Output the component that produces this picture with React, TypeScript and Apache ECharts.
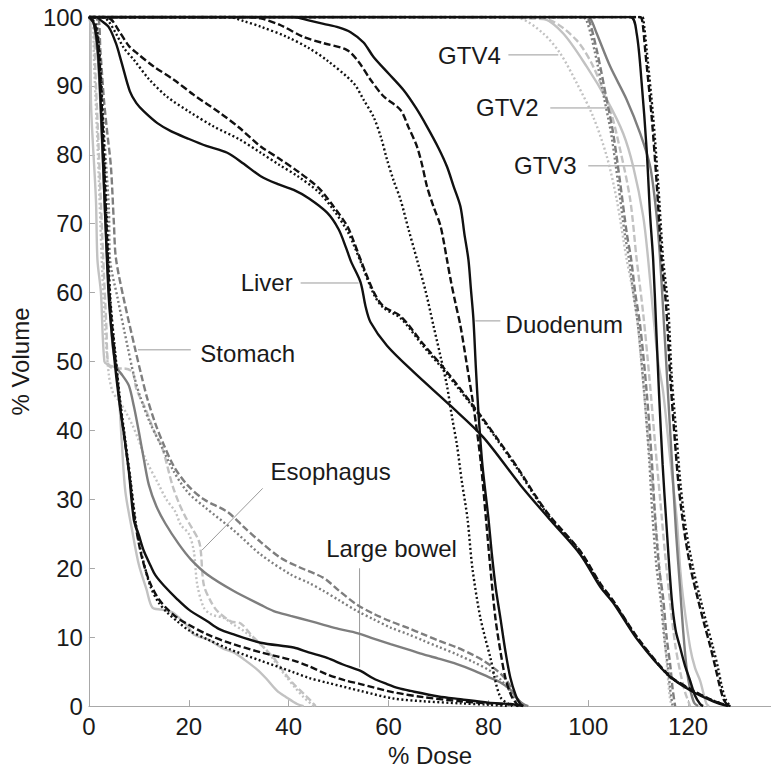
import React, { useEffect, useRef } from "react";
import * as echarts from "echarts";

type Pt = [number, number];

const xTickValues = [0, 20, 40, 60, 80, 100, 120];
const yTickValues = [0, 10, 20, 30, 40, 50, 60, 70, 80, 90, 100];

// Liver (black)
const liverSolid: Pt[] = [[0,100],[1.5,100],[2.4,99.5],[4,98.5],[5.4,96.2],[6.5,93.5],[8.2,89.2],[9.5,87.5],[11,86.3],[13.7,84.6],[16.5,83.4],[19.7,82.4],[23.5,81.3],[27.7,80.3],[31,78.7],[34.4,76.9],[38,75.7],[41,74.9],[44,73.7],[47.7,71.6],[50,69.2],[51.5,66.5],[52.5,64.5],[54.4,61.5],[55.4,58],[56.4,55.7],[59.7,52.3],[65,48.5],[72.4,43.6],[79,39],[86.4,32.1],[92.4,27],[98.4,22],[102.4,17.3],[105,15],[110,9.5],[116,4.5],[120.4,2.3],[125,0.7],[128,0]];
const liverDashed: Pt[] = [[0,100],[3,100],[4.5,99.6],[6,98],[8,95.8],[9.7,94.7],[13,92.8],[17,90.9],[21,88.7],[26.4,86],[30,84],[34.4,81.2],[38,79.5],[42,77.5],[46,75.2],[49,72.5],[51.7,69.7],[53,67.5],[54.4,64.8],[57.1,60],[59,58],[62.4,56.6],[67,52.5],[71.7,48.5],[78.4,42.2],[82,38.6],[86.4,34],[89,31],[92.4,27.5],[98.4,22.5],[102.4,17.8],[105,15.3],[110,9.8],[116,4.6],[120.4,2.5],[125,0.8],[128.5,0]];
const liverDotted: Pt[] = [[0,100],[2.8,100],[4,99.3],[5.5,97.5],[7,95.5],[9.1,93.7],[12,91],[15.7,88.4],[20,86.3],[25,84.1],[30,82.3],[34.4,80.3],[38,78.6],[42,76.8],[46,74.6],[49,72],[51.7,69],[53,67],[54.4,64.5],[57.1,59.7],[59,57.8],[62.4,56.3],[67,52.2],[71.7,48.2],[78.4,42],[82,38.4],[86.4,33.8],[89,30.8],[92.4,27.3],[98.4,22.4],[102.4,17.6],[105,15.2],[110,9.7],[116,4.5],[120.4,2.4],[125,0.8],[128.3,0]];

// Duodenum (black)
const duodenumSolid: Pt[] = [[0,100],[41,100],[44,99.5],[47,99],[50,98.5],[52.4,97.8],[55,96.3],[57,94.2],[60,91.8],[63,89.4],[65.5,86.8],[67.7,84.1],[70,81],[71.7,78.3],[73,75.5],[74.4,72.5],[75.2,68.5],[76,64.8],[76.5,60.5],[77,56.2],[77.5,49],[78,42.7],[78.8,35],[80,27.3],[80.7,22],[81.5,17],[82.4,12.8],[83.4,8],[84.4,4.1],[85.5,1.5],[86.4,0.3],[87,0]];
const duodenumDashed: Pt[] = [[0,100],[32,100],[34.4,99.8],[38.4,98.8],[43,97.1],[47,96.2],[51.7,95.2],[54,93.5],[56.4,90.9],[59,88.5],[62.4,86.5],[64,84],[65.7,81.2],[66.8,78.3],[67.7,75.4],[69,72.5],[70.4,69.7],[71.7,64.8],[72.4,62],[73.4,58.5],[74.4,55.2],[75.7,49.5],[77,43.6],[78.4,35.9],[79.5,27.3],[80.4,20],[81.4,12.8],[82.4,8],[83.4,4.1],[84.6,1.5],[85.7,0.3],[86.5,0]];
const duodenumDotted: Pt[] = [[0,100],[28,100],[31,99.4],[34.4,98.6],[39.7,97.1],[44,95.5],[47.7,93.7],[53,90.4],[55,88],[57,85.5],[58.5,82.5],[59.7,79.3],[61,76.3],[62.4,73.5],[64,69.2],[65.7,64.8],[67.5,60],[69,55.2],[70.4,50.8],[71.7,46.5],[72.7,42],[73.7,37.9],[74.7,32.5],[75.8,27.3],[76.8,20],[78.4,12.8],[80.4,7],[82.4,1.3],[84.8,0]];

// Large bowel (black)
const bowelSolid: Pt[] = [[0,100],[1,99],[1.8,95],[2.5,85],[3.2,72],[4,59],[5,51],[6,44.6],[7,39.5],[8,34],[9,27],[10,24.8],[11,22.5],[12.4,20.3],[13.3,19],[15,17.5],[17.7,15.5],[20,14],[23.7,12.3],[26,11.2],[29,10.4],[34.4,9.2],[41,8.5],[44,7.8],[47.7,7],[51,6],[54.4,5.1],[57,4],[59.7,3.2],[62,2.6],[64.4,2.2],[70,1.4],[74.4,1],[80,0.5],[84.4,0.3],[87,0]];
const bowelDashed: Pt[] = [[0,100],[1.2,99],[2,95],[2.7,85],[3.4,72],[4.2,59],[5.2,51],[6.2,44],[7.2,38.5],[8.2,33],[9.3,26.5],[10.3,22.5],[11.3,19.8],[12.4,17.6],[14,15.5],[15.8,14],[17.7,12.8],[20,11.8],[23.7,10.4],[28,9.2],[34.4,7.8],[41,6.6],[44,5.8],[47.7,4.6],[51,3.8],[54.4,3.2],[61,2],[67,1.3],[74.4,0.7],[80,0.4],[85,0.2],[86,0]];
const bowelDotted: Pt[] = [[0,100],[1.3,99],[2.1,95],[2.8,85],[3.5,72],[4.3,59],[5.3,51],[6.3,44],[7.3,38.5],[8.3,33],[9.4,26.5],[10.4,22.5],[11.4,19.6],[12.4,17.2],[14,15],[15.8,13.5],[17.7,12.3],[20,11],[23.7,9.7],[28,8.3],[34.4,6.6],[41,4.9],[44,4.1],[47.7,3.4],[54.4,2.2],[61,1.1],[67,0.7],[74.4,0.4],[80,0.2],[84,0]];

// Stomach (dark grey)
const stomachSolid: Pt[] = [[0,100],[1,99],[1.8,94],[2.5,84],[3.2,72],[4,60],[4.8,52],[5.7,49],[6.7,48],[8,46.5],[9,43.5],[10,39.8],[11,35.8],[12,32.1],[13.5,29],[15.3,26.5],[18,23.5],[20.4,21.3],[23.7,19.1],[29,16.7],[34.4,14.7],[37,13.8],[40.4,13.1],[44,12.4],[47,11.8],[50,11.2],[53.7,10.6],[57,9.8],[60.4,9],[64,8.2],[67,7.5],[70,6.9],[73.7,6.1],[77,5.2],[80.4,4.1],[82.5,3.4],[84.4,2.4],[85.8,1],[87,0.3],[88,0]];
const stomachDashed: Pt[] = [[0,100],[1.7,100],[2.3,95],[3,88],[3.7,83],[4.4,78.3],[5,70],[5.4,65],[7,59],[9.1,52.3],[10.5,48],[11.7,44.6],[13.3,41],[15,37.9],[17,34.8],[19.7,32.1],[23,30],[27.7,28.2],[31,26],[34.4,23.8],[38.4,21.5],[42,20.2],[47,18.6],[50,16.8],[53.7,14.7],[57,13.4],[60.4,12.3],[64,11.3],[67,10.4],[70,9.5],[73.7,8.5],[77,7.4],[79,6.6],[81.5,5.3],[83.7,3.7],[85,2],[86.5,0.5],[87.5,0]];
const stomachDotted: Pt[] = [[0,100],[1.4,100],[2,95],[2.7,87],[3.4,79],[4,72],[4.2,65],[5.8,59],[7.7,52.3],[9,48],[10.4,44.6],[12.3,41],[14.4,37.9],[16.8,34.3],[19.7,31.1],[23.5,28.7],[29,25.5],[34.4,22],[40.4,19.1],[44,17.9],[47,16.7],[50,15.4],[53.7,13.8],[57,12.6],[60.4,11.4],[64,10.4],[67,9.5],[70,8.6],[73.7,7.5],[77,6.4],[80.4,5.1],[82.5,3.8],[84,2.5],[85.5,0.8],[86.5,0]];

// Esophagus (light grey)
const esophSolid: Pt[] = [[0,100],[0.3,99],[0.4,88],[1.4,73.5],[1.7,64.8],[2.4,60],[3.1,50],[4,49.5],[5.4,49],[6,45],[6.6,38],[7.3,31.1],[8.7,25.3],[10,20.5],[11.5,17],[12.7,14.3],[14.5,14],[16.7,13.6],[18.5,12.5],[20,11.4],[21,10.4],[24,9.6],[27,8.3],[29,7.8],[31,6.8],[33.7,5.3],[35.5,4],[37.7,2.2],[39.5,1.3],[41.7,0.3],[43,0]];
const esophDashed: Pt[] = [[0,100],[0.8,100],[1.3,92],[2,80],[2.8,66],[3.5,55],[3.9,49.5],[5,49],[7,49],[8.7,48.5],[9.5,46],[11.3,43.2],[13,40],[14.7,37.4],[16.7,32.1],[18,29.5],[19.3,27.5],[20.5,26],[22,24],[22.4,22.5],[23,17.6],[24.4,15.2],[25.7,13.8],[28.4,12.3],[30.4,12],[32.4,10.4],[35,8.5],[37,7],[39,5],[41,3.2],[43,1.8],[44.4,0.8],[45.4,0]];
const esophDotted: Pt[] = [[0,100],[0.6,100],[1.1,92],[1.8,80],[2.5,66],[3.2,55],[4,48],[4.8,45.5],[5.7,44.6],[6.3,44],[7.5,42.5],[8.7,40.8],[10,38.5],[11.3,35.9],[14,32.1],[15.5,30],[17.3,28.2],[18.4,26.3],[20,25],[21,22.5],[21.7,17.6],[23,14.3],[24.5,13.3],[27,12.8],[29,11.8],[31,10.9],[33.5,9.5],[35.7,8],[37.5,6.2],[39.7,4.1],[41.5,2.5],[43,1.3],[45,0]];

// GTV3 (black)
const gtv3Solid: Pt[] = [[0,100],[108.4,100],[109.7,97.6],[110.7,90.4],[111.7,80.7],[112.4,71.1],[113,64.8],[113.6,55],[114.2,45],[114.9,35],[115.6,27],[116.7,15.7],[117.5,11],[118.4,8.5],[119.4,5.8],[120.4,3.7],[121.4,1.5],[122.4,0.3],[123,0]];
const gtv3Dashed: Pt[] = [[0,100],[110.3,100],[110.8,99.5],[111.4,95.2],[112.7,85.5],[113.7,75.9],[114.7,64.8],[115.6,58],[116.4,48],[117.3,39],[118.1,32],[119.1,26],[120.5,20],[121.9,15.7],[123.2,12],[124.5,8.5],[125.5,5.5],[126.3,3],[127.1,1],[128,0]];
const gtv3Dotted: Pt[] = [[0,100],[110.7,100],[111,99.8],[111.7,95.2],[113,85.5],[114,75.9],[115,64.8],[116,58],[116.7,48],[117.7,39],[118.5,32],[119.5,26],[121,20],[122.4,15.7],[123.7,12],[125,8.5],[126,5.5],[126.7,3],[127.5,1],[128.4,0]];

// GTV2 (dark grey)
const gtv2Solid: Pt[] = [[0,100],[99.5,100],[100.4,99.8],[101.7,97.6],[104.4,92.8],[107.7,88],[110.4,83.1],[112.4,78.3],[113.7,71.1],[114.4,64.8],[115.2,55],[116,45],[116.8,35],[117.6,25],[118.4,17],[119,11],[119.7,5.5],[120.4,2.5],[121.2,0.5],[122,0]];
const gtv2Dashed: Pt[] = [[0,100],[99,100],[100,99.8],[101.7,95.2],[103.7,88],[105,83.1],[106.4,75.9],[107.7,68.7],[108.6,64.8],[109.4,60],[110.4,55.2],[111.7,45.6],[112.7,35.9],[113.4,27.3],[114.2,20],[115,15.7],[115.7,10],[116.4,6.1],[116.9,2.5],[117.4,0]];
const gtv2Dotted: Pt[] = [[0,100],[98.5,100],[99.6,99.6],[101.3,95],[103.3,87.8],[104.6,83],[106,75.8],[107.3,68.6],[108.2,64.7],[109,60],[110,55],[111.2,45.5],[112.2,35.8],[112.9,27.2],[113.7,20],[114.5,15.5],[115.2,10],[115.9,6],[116.4,2.5],[116.9,0]];

// GTV4 (light grey)
const gtv4Solid: Pt[] = [[0,100],[88,100],[91,99.8],[95,97.6],[99.7,92.8],[103.7,88],[107,83.1],[109,78.3],[111,71.1],[112,64.8],[113,57],[114,50],[115,45.6],[116.4,35.9],[117.7,27.3],[118.4,20],[119,15.7],[120.4,8.5],[121.4,5.5],[122.4,3.7],[123.2,1.5],[123.7,0.3],[124.2,0]];
const gtv4Dashed: Pt[] = [[0,100],[84,100],[88,99.8],[92.4,99.5],[97.7,96.6],[101,92.8],[104.4,86.5],[106.4,80.7],[108.4,73.5],[109.7,64.8],[111,57],[112.2,48],[113.4,38],[114.4,30],[115.4,22],[116.4,15],[117.4,9],[118.4,5],[119.4,2],[120.4,0]];
const gtv4Dotted: Pt[] = [[0,100],[83,100],[86.4,99.8],[91,97.6],[94.4,94.7],[97.7,90.4],[101,85.5],[103.7,79.8],[105.7,73.5],[107.7,64.8],[109.5,58],[110.6,50],[111.6,42],[112.6,34],[113.6,26],[114.5,18],[115.2,11],[115.8,5.5],[116.3,1.5],[116.7,0]];

// Annotation labels and leader lines, in data coordinates (dose, volume)
const annotationTexts = ["GTV4", "GTV2", "GTV3", "Liver", "Duodenum", "Stomach", "Esophagus", "Large bowel"];
const annotationLabelPos: Pt[] = [[76.2, 94.4], [83.8, 86.8], [91.4, 78.4], [35.6, 61.5], [95.2, 55.4], [31.8, 51.2], [48.4, 34.1], [60.6, 22.9]];
const annotationLeaderFrom: Pt[] = [[84, 94.5], [92.4, 86.8], [100, 78.4], [42.4, 61.4], [77.4, 55.9], [9.8, 51.7], [34.8, 31.6], [54.2, 20]];
const annotationLeaderTo: Pt[] = [[94, 94.5], [104, 86.8], [111.4, 78.4], [54, 61.4], [82.4, 55.9], [20.4, 51.7], [22.6, 22.6], [54.2, 5.6]];

const BLACK = "#111111";
const DARK = "#7e7e7e";
const LIGHT = "#c2c2c2";
const DASH = [7, 3];
const DOT = [2, 2.5];
const FONT = '"Liberation Sans", Arial, Helvetica, sans-serif';

const curveDefs: { data: Pt[]; color: string; type: any }[] = [
  { data: esophSolid, color: LIGHT, type: "solid" },
  { data: esophDashed, color: LIGHT, type: DASH },
  { data: esophDotted, color: LIGHT, type: DOT },
  { data: gtv4Solid, color: LIGHT, type: "solid" },
  { data: gtv4Dashed, color: LIGHT, type: DASH },
  { data: gtv4Dotted, color: LIGHT, type: DOT },
  { data: stomachSolid, color: DARK, type: "solid" },
  { data: stomachDashed, color: DARK, type: DASH },
  { data: stomachDotted, color: DARK, type: DOT },
  { data: gtv2Solid, color: DARK, type: "solid" },
  { data: gtv2Dashed, color: DARK, type: DASH },
  { data: gtv2Dotted, color: DARK, type: DOT },
  { data: bowelSolid, color: BLACK, type: "solid" },
  { data: bowelDashed, color: BLACK, type: DASH },
  { data: bowelDotted, color: BLACK, type: DOT },
  { data: liverSolid, color: BLACK, type: "solid" },
  { data: liverDashed, color: BLACK, type: DASH },
  { data: liverDotted, color: BLACK, type: DOT },
  { data: duodenumSolid, color: BLACK, type: "solid" },
  { data: duodenumDashed, color: BLACK, type: DASH },
  { data: duodenumDotted, color: BLACK, type: DOT },
  { data: gtv3Solid, color: BLACK, type: "solid" },
  { data: gtv3Dashed, color: BLACK, type: DASH },
  { data: gtv3Dotted, color: BLACK, type: DOT },
];

export default function App() {
  const ref = useRef<HTMLDivElement>(null);
  useEffect(() => {
    if (!ref.current) return;
    const chart = echarts.init(ref.current, undefined, { renderer: "svg" });
    chart.setOption({
      animation: false,
      backgroundColor: "#ffffff",
      grid: { left: 88, top: 17, width: 683, height: 692, containLabel: false },
      xAxis: {
        type: "value",
        min: 0,
        max: 136.6,
        interval: 20,
        name: "% Dose",
        nameLocation: "middle",
        nameGap: 34,
        nameTextStyle: { fontSize: 24, color: "#1a1a1a", fontFamily: FONT },
        axisLine: { show: true, lineStyle: { color: "#a8a8a8", width: 1 } },
        axisTick: { show: true, inside: true, length: 6, lineStyle: { color: "#a8a8a8" } },
        axisLabel: {
          fontSize: 24,
          color: "#1a1a1a",
          fontFamily: FONT,
          margin: 8,
          showMaxLabel: false,
          formatter: (v: number) => (xTickValues.includes(v) ? String(v) : ""),
        },
        splitLine: { show: false },
      },
      yAxis: {
        type: "value",
        min: 0,
        max: 100,
        interval: 10,
        name: "% Volume",
        nameLocation: "middle",
        nameGap: 56,
        nameTextStyle: { fontSize: 24, color: "#1a1a1a", fontFamily: FONT },
        axisLine: { show: true, lineStyle: { color: "#a8a8a8", width: 1 } },
        axisTick: { show: true, inside: true, length: 6, lineStyle: { color: "#a8a8a8" } },
        axisLabel: {
          fontSize: 24,
          color: "#1a1a1a",
          fontFamily: FONT,
          margin: 6,
          formatter: (v: number) => (yTickValues.includes(v) ? String(v) : ""),
        },
        splitLine: { show: false },
      },
      series: curveDefs.map((c) => ({
        type: "line",
        data: c.data,
        showSymbol: false,
        symbol: "none",
        silent: true,
        clip: true,
        smooth: 0.3,
        lineStyle: { color: c.color, width: 2.4, type: c.type },
      })),
    });

    const px = (p: Pt) => chart.convertToPixel({ gridIndex: 0 }, p) as number[];
    const graphics: any[] = [];
    annotationTexts.forEach((t, i) => {
      const a = px(annotationLeaderFrom[i]);
      const b = px(annotationLeaderTo[i]);
      graphics.push({
        type: "line",
        silent: true,
        shape: { x1: a[0], y1: a[1], x2: b[0], y2: b[1] },
        style: { stroke: "#9a9a9a", lineWidth: 1 },
        z: 1,
      });
      const l = px(annotationLabelPos[i]);
      graphics.push({
        type: "text",
        silent: true,
        x: l[0],
        y: l[1],
        style: {
          text: t,
          fill: "#1a1a1a",
          font: `24px ${FONT}`,
          align: "center",
          verticalAlign: "middle",
        },
        z: 10,
      });
    });
    chart.setOption({ graphic: graphics });

    return () => chart.dispose();
  }, []);
  return (
    <div
      ref={ref}
      style={{ position: "absolute", left: 0, top: 0, width: 771, height: 772 }}
    />
  );
}
